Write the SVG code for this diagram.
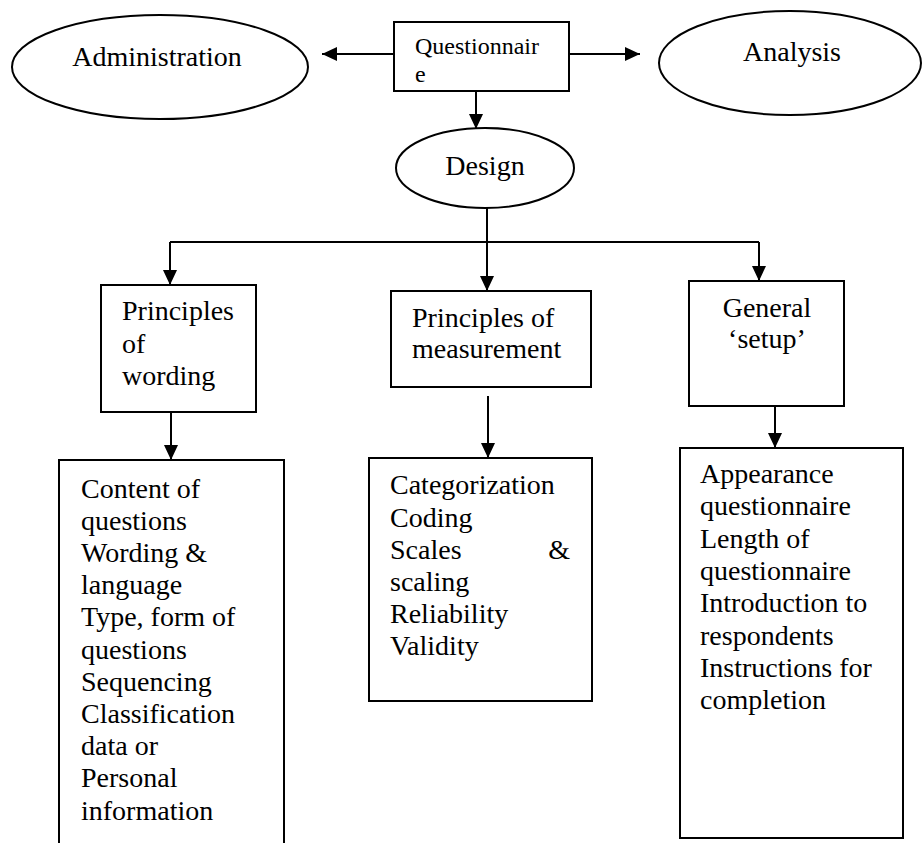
<svg xmlns="http://www.w3.org/2000/svg" width="924" height="843" viewBox="0 0 924 843">
<style>
.shape{fill:#fff;stroke:#000;stroke-width:2}
.t{font-family:"Liberation Serif","Times New Roman",serif;font-size:28px;fill:#000}
.ts{font-family:"Liberation Serif","Times New Roman",serif;font-size:24px;fill:#000}
.c{text-anchor:middle}
.edge{fill:none;stroke:#000;stroke-width:2}
</style>
<defs>
<marker id="arrow" markerUnits="userSpaceOnUse" markerWidth="16" markerHeight="15" refX="15" refY="7" orient="auto">
<path d="M0,0 L15,7 L0,14 z" fill="#000"/>
</marker>
</defs>
<rect width="924" height="843" fill="#fff"/>

<g id="connectors">
<line class="edge" x1="394" y1="54" x2="322" y2="54" marker-end="url(#arrow)"/>
<line class="edge" x1="569" y1="54" x2="640" y2="54" marker-end="url(#arrow)"/>
<line class="edge" x1="476" y1="91" x2="476" y2="129" marker-end="url(#arrow)"/>
<path class="edge" d="M487,208 V242 M170,242 H759"/>
<line class="edge" x1="170" y1="242" x2="170" y2="285" marker-end="url(#arrow)"/>
<line class="edge" x1="487" y1="242" x2="487" y2="291" marker-end="url(#arrow)"/>
<line class="edge" x1="759" y1="242" x2="759" y2="281" marker-end="url(#arrow)"/>
<line class="edge" x1="171" y1="412" x2="171" y2="460" marker-end="url(#arrow)"/>
<line class="edge" x1="488" y1="396" x2="488" y2="458" marker-end="url(#arrow)"/>
<line class="edge" x1="775" y1="406" x2="775" y2="448" marker-end="url(#arrow)"/>
</g>

<g id="administration">
<ellipse class="shape" cx="160" cy="67" rx="148" ry="52"/>
<text class="t c" x="157" y="66">Administration</text>
</g>

<g id="questionnaire">
<rect class="shape" x="394" y="22" width="175" height="69"/>
<text class="ts" x="415" y="54">Questionnair</text>
<text class="ts" x="415" y="82">e</text>
</g>

<g id="analysis">
<ellipse class="shape" cx="790" cy="63" rx="131" ry="52"/>
<text class="t c" x="792" y="61">Analysis</text>
</g>

<g id="design">
<ellipse class="shape" cx="485" cy="168" rx="89" ry="40"/>
<text class="t c" x="485" y="175">Design</text>
</g>

<g id="principles-wording">
<rect class="shape" x="101" y="285" width="155" height="127"/>
<text class="t" x="122" y="320">Principles</text>
<text class="t" x="122" y="353">of</text>
<text class="t" x="122" y="385">wording</text>
</g>

<g id="principles-measurement">
<rect class="shape" x="391" y="291" width="200" height="96"/>
<text class="t" x="412" y="327">Principles of</text>
<text class="t" x="412" y="358">measurement</text>
</g>

<g id="general-setup">
<rect class="shape" x="689" y="281" width="155" height="125"/>
<text class="t c" x="767" y="317">General</text>
<text class="t c" x="767" y="348">‘setup’</text>
</g>

<g id="wording-list">
<rect class="shape" x="59" y="460" width="225" height="400"/>
<text class="t" x="81" y="498">Content of</text>
<text class="t" x="81" y="530">questions</text>
<text class="t" x="81" y="562">Wording &amp;</text>
<text class="t" x="81" y="594">language</text>
<text class="t" x="81" y="626">Type, form of</text>
<text class="t" x="81" y="659">questions</text>
<text class="t" x="81" y="691">Sequencing</text>
<text class="t" x="81" y="723">Classification</text>
<text class="t" x="81" y="755">data or</text>
<text class="t" x="81" y="787">Personal</text>
<text class="t" x="81" y="820">information</text>
</g>

<g id="measurement-list">
<rect class="shape" x="369" y="458" width="223" height="243"/>
<text class="t" x="390" y="494">Categorization</text>
<text class="t" x="390" y="527">Coding</text>
<text class="t" x="390" y="559">Scales</text>
<text class="t" x="570" y="559" text-anchor="end">&amp;</text>
<text class="t" x="390" y="591">scaling</text>
<text class="t" x="390" y="623">Reliability</text>
<text class="t" x="390" y="655">Validity</text>
</g>

<g id="setup-list">
<rect class="shape" x="680" y="448" width="223" height="390"/>
<text class="t" x="700" y="483">Appearance</text>
<text class="t" x="700" y="515">questionnaire</text>
<text class="t" x="700" y="548">Length of</text>
<text class="t" x="700" y="580">questionnaire</text>
<text class="t" x="700" y="612">Introduction to</text>
<text class="t" x="700" y="645">respondents</text>
<text class="t" x="700" y="677">Instructions for</text>
<text class="t" x="700" y="709">completion</text>
</g>
</svg>
